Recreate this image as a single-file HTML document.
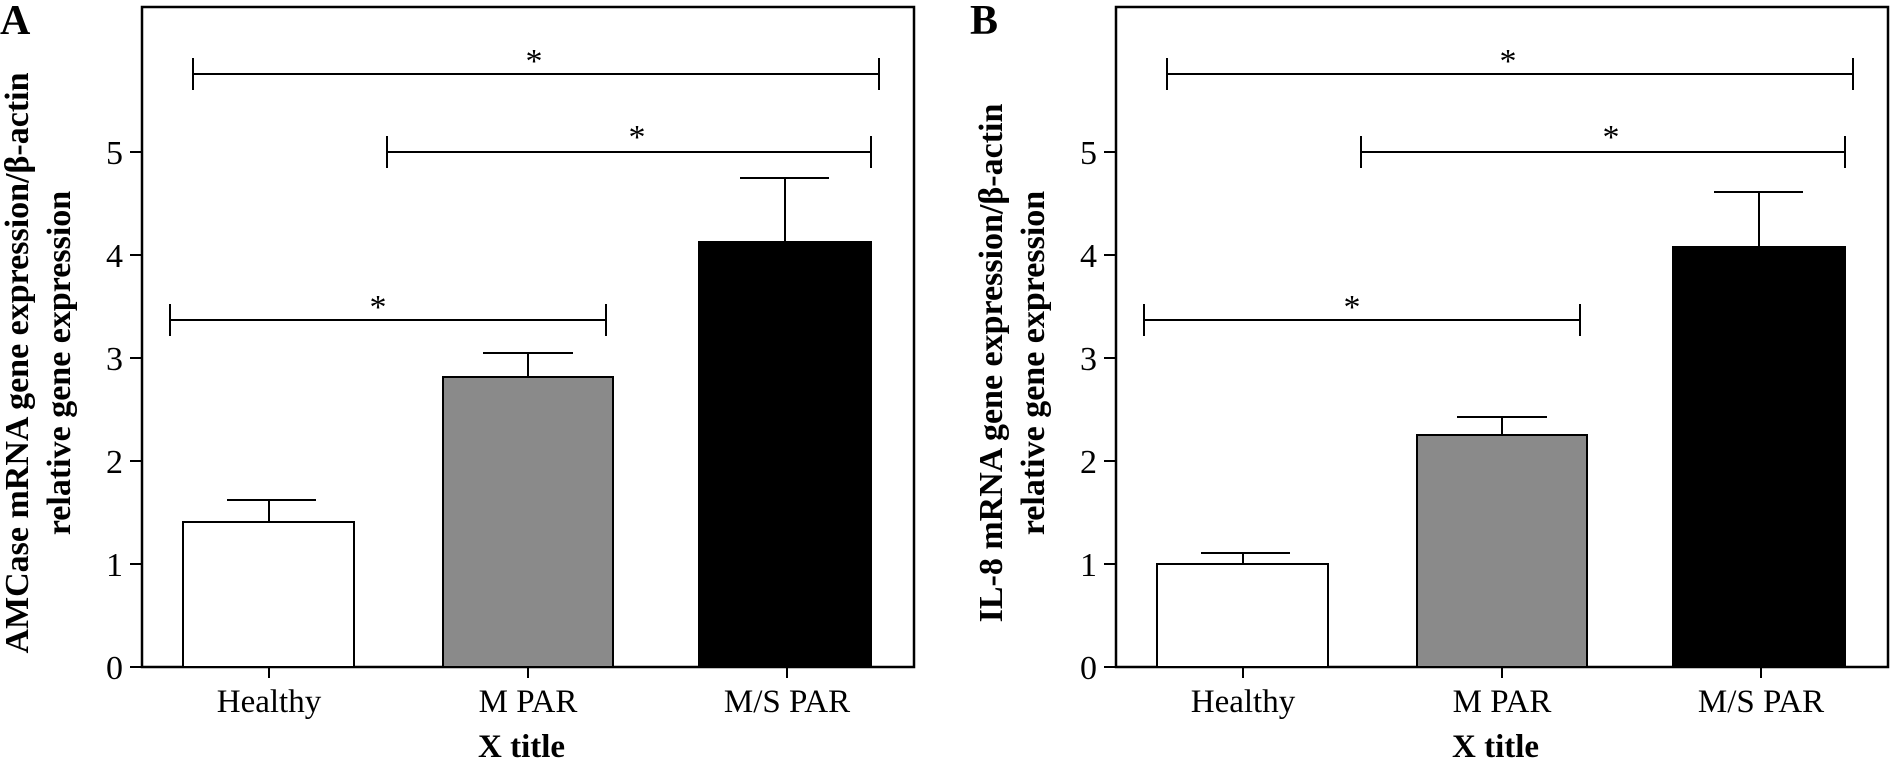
<!DOCTYPE html>
<html><head><style>html,body{margin:0;padding:0;background:#fff}svg{display:block}</style></head><body>
<svg width="1890" height="761" viewBox="0 0 1890 761" xmlns="http://www.w3.org/2000/svg" font-family="'Liberation Serif', serif">
<defs>
<g id="axes">
  <rect x="142" y="7" width="772" height="660" fill="none" stroke="#000" stroke-width="2.5"/>
  <g stroke="#000" stroke-width="2">
    <line x1="130" y1="667" x2="142" y2="667"/><line x1="130" y1="564" x2="142" y2="564"/>
    <line x1="130" y1="461" x2="142" y2="461"/><line x1="130" y1="358" x2="142" y2="358"/>
    <line x1="130" y1="255" x2="142" y2="255"/><line x1="130" y1="152" x2="142" y2="152"/>
    <line x1="269" y1="667" x2="269" y2="678"/><line x1="528" y1="667" x2="528" y2="678"/><line x1="787" y1="667" x2="787" y2="678"/>
  </g>
  <g font-size="34" text-anchor="end">
    <text x="123" y="679">0</text><text x="123" y="576">1</text><text x="123" y="473">2</text>
    <text x="123" y="370">3</text><text x="123" y="267">4</text><text x="123" y="164">5</text>
  </g>
  <g font-size="33" text-anchor="middle">
    <text x="269" y="712">Healthy</text><text x="528" y="712">M PAR</text><text x="787" y="712">M/S PAR</text>
  </g>
  <text x="478" y="757" font-size="33" font-weight="bold">X title</text>
  <g stroke="#000" stroke-width="2" fill="none">
    <line x1="193" y1="74" x2="879" y2="74"/><line x1="193" y1="58" x2="193" y2="90"/><line x1="879" y1="58" x2="879" y2="90"/>
    <line x1="387" y1="152" x2="871" y2="152"/><line x1="387" y1="136" x2="387" y2="168"/><line x1="871" y1="136" x2="871" y2="168"/>
    <line x1="170" y1="320" x2="606" y2="320"/><line x1="170" y1="304" x2="170" y2="336"/><line x1="606" y1="304" x2="606" y2="336"/>
  </g>
  <g font-size="34" text-anchor="middle">
    <text x="534" y="72">*</text><text x="637" y="148">*</text><text x="378" y="318">*</text>
  </g>
</g>
</defs>

<!-- Panel A -->
<use href="#axes"/>
<g stroke="#000" stroke-width="2">
  <rect x="183" y="522" width="171" height="145" fill="#fff"/>
  <line x1="269" y1="522" x2="269" y2="500"/><line x1="227" y1="500" x2="316" y2="500"/>
  <rect x="443" y="377" width="170" height="290" fill="#8a8a8a"/>
  <line x1="528" y1="377" x2="528" y2="353"/><line x1="483" y1="353" x2="573" y2="353"/>
  <rect x="699" y="242" width="172" height="425" fill="#000"/>
  <line x1="785" y1="242" x2="785" y2="178"/><line x1="740" y1="178" x2="829" y2="178"/>
</g>
<text x="0" y="34" font-size="42" font-weight="bold">A</text>
<g font-size="34" font-weight="bold" text-anchor="middle">
  <text transform="translate(28,363) rotate(-90)">AMCase mRNA gene expression/β-actin</text>
  <text transform="translate(70,363) rotate(-90)">relative gene expression</text>
</g>

<!-- Panel B -->
<g transform="translate(974,0)">
  <use href="#axes"/>
  <g stroke="#000" stroke-width="2">
    <rect x="183" y="564" width="171" height="103" fill="#fff"/>
    <line x1="269" y1="564" x2="269" y2="553"/><line x1="227" y1="553" x2="316" y2="553"/>
    <rect x="443" y="435" width="170" height="232" fill="#8a8a8a"/>
    <line x1="528" y1="435" x2="528" y2="417"/><line x1="483" y1="417" x2="573" y2="417"/>
    <rect x="699" y="247" width="172" height="420" fill="#000"/>
    <line x1="785" y1="247" x2="785" y2="192"/><line x1="740" y1="192" x2="829" y2="192"/>
  </g>
  <text x="-4" y="34" font-size="42" font-weight="bold">B</text>
  <g font-size="34" font-weight="bold" text-anchor="middle">
    <text transform="translate(28,363) rotate(-90)">IL-8 mRNA gene expression/β-actin</text>
    <text transform="translate(70,363) rotate(-90)">relative gene expression</text>
  </g>
</g>
</svg>
</body></html>
